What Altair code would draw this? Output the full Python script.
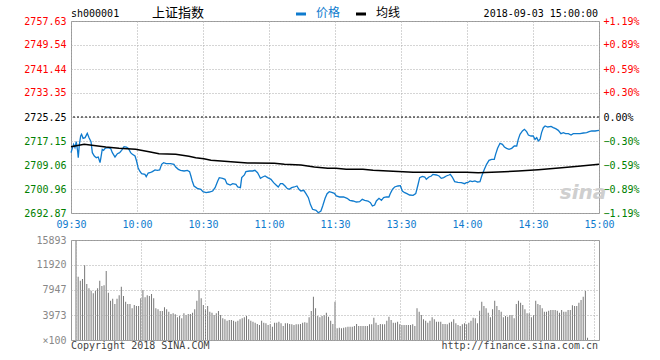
import json
import altair as alt
import pandas as pd

# ---------------- data ----------------
prev_close = 2725.25
price_ticks = [2692.87, 2700.96, 2709.06, 2717.15, 2725.25, 2733.35, 2741.44, 2749.54, 2757.63]
vol_ticks = [0, 3973, 7947, 11920, 15893]
time_ticks = [0, 30, 60, 90, 120, 150, 180, 210, 240]
time_labels = ["09:30", "10:00", "10:30", "11:00", "11:30", "13:30", "14:00", "14:30", "15:00"]

# minutes after 09:30 (trading minutes) and index value
price_min = [
    0, 1.2, 1.8, 2.4, 3.0, 3.3, 3.8, 4.4, 4.8, 5.5,
    6.4, 7.4, 8.2, 9.1, 9.7, 10.6, 11.5, 12.4, 13.2, 13.6,
    14.2, 14.8, 15.5, 16.5, 18.0, 18.8, 20.0, 21.1, 22.1, 23.0,
    24.1, 25.2, 26.1, 27.1, 27.9, 29.1, 29.8, 30.5, 31.2, 32.1,
    33.6, 34.2, 35.1, 36.2, 37.0, 38.2, 39.2, 40.3, 41.2, 42.1,
    43.3, 45.3, 46.8, 47.6, 48.8, 49.8, 51.4, 52.9, 53.9, 54.5,
    55.1, 55.9, 57.4, 59.0, 60.0,
    61.4, 62.9, 64.4, 65.5, 66.7, 67.4, 68.9, 70.0, 70.9, 72.4,
    73.5, 75.0, 75.8, 77.0, 77.6, 78.8, 79.5, 81.1, 82.6, 83.6,
    84.8, 85.6, 86.1, 87.1, 88.2, 89.4, 90.9, 92.1, 93.2, 94.2,
    95.2, 96.2, 97.3, 98.2, 99.2, 100.3, 101.5, 102.7, 103.6, 104.5,
    105.8, 106.8, 107.9, 108.8, 109.8, 111.4, 112.4, 113.6, 114.4, 115.5,
    116.4, 117.4, 118.5, 119.7,
    120.6, 122.1, 123.9, 125.5, 126.7, 128.2, 129.7, 131.2, 132.4, 133.5,
    135.0, 136.1, 137.0, 138.0, 138.8, 140.0, 141.1, 142.1, 143.3, 144.5,
    145.1, 146.1, 147.1, 148.6, 149.7, 150.6, 151.7, 152.7, 153.9, 155.5,
    156.7, 157.7, 158.5, 159.7, 160.8, 161.5, 162.7, 163.8, 164.5, 166.1,
    167.3, 168.3, 169.4, 170.6, 171.8, 172.4, 173.3, 174.4, 175.9, 177.4,
    178.9, 179.7,
    180.3, 181.4, 182.4, 183.6, 184.8, 185.9, 186.7, 187.9, 188.9, 190.0,
    191.2, 192.4, 193.0, 193.9, 195.0, 196.1, 197.0, 198.0, 199.1, 200.3,
    201.5, 202.6, 203.3, 204.1, 205.2, 206.1, 207.1, 207.9, 209.1, 210.1,
    210.9, 211.7, 212.4, 213.2, 213.9, 214.7, 215.5, 216.7, 218.2, 219.2,
    220.3, 221.5, 222.7, 223.8, 224.8, 226.1, 227.3, 228.3, 229.8, 231.4,
    232.9, 234.4, 235.5, 236.7, 238.2, 240.0,
]
price_val = [
    2713.22, 2716.03, 2714.91, 2716.93, 2713.78, 2711.53, 2716.03, 2718.84, 2719.40, 2718.06,
    2718.28, 2719.74, 2718.28, 2716.93, 2713.22, 2712.10, 2711.53, 2711.76, 2709.85, 2711.53,
    2714.35, 2714.01, 2714.68, 2714.91, 2714.68, 2713.22, 2711.76, 2712.88, 2713.22, 2714.01,
    2715.24, 2715.13, 2714.68, 2713.22, 2712.66, 2712.10, 2710.41, 2708.16, 2707.04, 2706.14,
    2705.91, 2705.12, 2706.36, 2706.59, 2706.81, 2707.38, 2707.26, 2707.38, 2709.29, 2709.85,
    2709.51, 2709.51, 2709.29, 2708.39, 2707.60, 2707.26, 2707.04, 2707.26, 2706.81, 2705.35,
    2703.67, 2701.98, 2701.19, 2700.85, 2700.07,
    2699.73, 2699.95, 2700.29, 2701.42, 2703.67, 2704.79, 2704.56, 2704.23, 2702.76, 2702.32,
    2702.76, 2702.54, 2701.64, 2701.42, 2704.79, 2705.69, 2706.81, 2707.04, 2707.04, 2707.26,
    2706.47, 2705.35, 2704.56, 2705.01, 2705.35, 2704.79, 2704.23, 2703.10, 2702.32, 2701.64,
    2702.76, 2702.76, 2701.98, 2701.19, 2700.85, 2701.42, 2701.64, 2701.98, 2700.85, 2700.29,
    2700.52, 2699.39, 2698.04, 2695.79, 2694.11, 2693.77, 2692.98, 2693.55, 2695.23, 2697.82,
    2699.39, 2700.07, 2699.84, 2699.50,
    2698.61, 2698.27, 2698.27, 2697.82, 2697.14, 2696.92, 2696.58, 2696.69, 2697.48, 2697.14,
    2696.92, 2696.36, 2695.23, 2695.57, 2696.92, 2697.82, 2697.14, 2698.04, 2698.27, 2698.27,
    2699.39, 2700.85, 2701.64, 2701.98, 2702.09, 2700.29, 2699.73, 2699.39, 2698.94, 2698.83,
    2699.39, 2702.32, 2704.79, 2705.24, 2705.01, 2704.23, 2705.01, 2705.35, 2705.91, 2705.69,
    2705.35, 2704.56, 2704.79, 2705.35, 2705.69, 2705.91, 2705.01, 2703.44, 2703.22, 2703.10,
    2702.76, 2703.10,
    2703.10, 2703.67, 2703.44, 2703.67, 2703.33, 2703.44, 2705.35, 2707.60, 2709.29, 2710.63,
    2710.97, 2710.97, 2712.66, 2714.68, 2716.37, 2716.03, 2715.13, 2714.68, 2714.35, 2714.68,
    2715.47, 2715.47, 2717.72, 2719.40, 2720.53, 2721.09, 2720.30, 2719.18, 2718.84, 2718.84,
    2717.72, 2718.28, 2717.16, 2717.72, 2719.97, 2721.65, 2722.22, 2721.88, 2722.10, 2721.65,
    2721.31, 2720.75, 2719.63, 2719.97, 2719.63, 2719.63, 2719.18, 2719.63, 2719.63, 2719.63,
    2719.85, 2719.97, 2720.30, 2720.53, 2720.53, 2720.75,
]

avg_min = [0, 6.0, 15.8, 21.8, 29.4, 35.5, 40.0, 47.6, 53.6, 56.7,
           60.4, 63.6, 68.2, 74.2, 80.3, 92.4, 97.0, 104.5, 110.6, 116.7,
           120.4, 125.1, 132.7, 137.3, 146.4, 155.5, 179.7, 185.1, 194.2, 203.3,
           212.4, 223.0, 230.6, 240.0]
avg_val = [2715.24, 2716.03, 2715.13, 2714.68, 2714.35, 2713.56, 2712.88, 2712.66, 2711.98, 2711.53,
           2711.20, 2710.63, 2710.41, 2710.07, 2709.74, 2709.62, 2709.29, 2709.06, 2708.39, 2707.94,
           2707.94, 2707.60, 2707.60, 2707.26, 2706.92, 2706.59, 2706.59, 2706.47, 2706.70, 2707.04,
           2707.49, 2708.16, 2708.61, 2709.29]

# volume per minute (x100 shares), minute 0 = 09:30
volume = [15893,
    10070, 9434, 9699, 11925, 8904, 8215, 7844, 7420, 7844, 8215,
    9434, 8586, 8692, 10971, 7526, 6254, 6572, 5724, 6572, 7102,
    8480, 6996, 6095, 5724, 5724, 5035, 5565, 5406, 5406, 6625,
    7950, 6784, 7102, 6996, 7314, 6625, 5035, 4876, 4611, 4611,
    5194, 4876, 4505, 4134, 4240, 4081, 3604, 3816, 3445, 4240,
    3975, 4134, 4134, 4346, 4876, 6254, 7950, 6625, 5565, 4876,
    5406,
    4505, 4346, 3975, 4240, 4611, 3975, 3445, 3286, 3074, 3180,
    3180, 3074, 2915, 3074, 3286, 3445, 3604, 3816, 3286, 3074,
    2915, 2756, 2544, 2385, 3074, 2756, 2650, 2385, 2544, 2120,
    2756, 2756, 2915, 2650, 2226, 2650, 2650, 2544, 2491, 2385,
    2491, 2491, 2544, 2756, 2809, 2756, 3604, 4611, 6890, 5035,
    3816, 3604, 3816, 3975, 4346, 3710, 3074,
    2544, 6095,
    1855, 1961, 1855, 1961, 2014, 2120, 2120, 2120, 2226, 2544,
    2226, 2226, 2226, 2226, 2226, 2491, 2491, 3551, 2756, 2385,
    2544, 2491, 2491, 3074, 3710, 3180, 2756, 2756, 2915, 2491,
    2385, 2385, 2385, 2385, 2385, 2491, 2226, 5035, 4505, 3975, 3286,
    3074, 2756, 3074, 3604, 3286, 2915, 2915, 2915, 2544, 2544,
    2491, 2756, 2915, 3286, 2650, 2385, 2226, 2491, 2650, 2491,
    2756, 3074, 3551, 3445, 2650, 4664, 6095, 5406, 5035, 4346,
    3604, 4876, 6254, 5406, 4770, 4505, 3604, 3816, 3710, 3975,
    3975, 3445, 5724, 6254, 5936, 5565, 4876, 4240, 4240, 3604,
    3975, 6254, 5724, 5565, 5035, 4505, 4505, 4664, 4770, 4770, 4770,
    4664, 4346, 4770, 4505, 4505, 4770, 4770, 5512, 5406, 5406,
    5936, 6360, 6890, 7791, 371,
]
vol_min = list(range(len(volume)))

# ---------------- style ----------------
MONO = "DejaVu Sans Mono"
CJK = "Noto Sans CJK SC"
BLUE = "#0f7bce"
GRID = "#aaaaaa"
W, H1, H2 = 528, 192, 100

xs = alt.Scale(domain=[0, 240], nice=False, zero=False)
ys = alt.Scale(domain=[price_ticks[0], price_ticks[-1]], nice=False, zero=False)
vs = alt.Scale(domain=[vol_ticks[0], vol_ticks[-1]], nice=False)

time_expr = json.dumps(time_labels) + "[round(datum.value/30)]"
cond_color = {
    "condition": [
        {"test": f"datum.value > {prev_close + 0.05}", "value": "#ff0000"},
        {"test": f"datum.value < {prev_close - 0.05}", "value": "#008000"},
    ],
    "value": "#000000",
}

x_top = alt.X("t:Q", scale=xs, title=None, axis=alt.Axis(
    values=time_ticks, labelExpr=time_expr, labelColor=BLUE, labelFont=MONO, labelFontSize=10,
    labelPadding=6, labelFlush=False, labelOverlap=False, ticks=False, domain=False,
    grid=True, gridColor=GRID, gridDash=[1, 2]))
x_bot = alt.X("t:Q", scale=xs, title=None, axis=alt.Axis(
    values=time_ticks, labels=False, ticks=False, domain=False,
    grid=True, gridColor=GRID, gridDash=[1, 2], zindex=1))

price_axis = alt.Axis(
    values=price_ticks, format=".2f", labelColor=cond_color, labelFont=MONO, labelFontSize=10,
    labelPadding=5, ticks=False, domain=False, grid=True, gridColor=GRID, gridDash=[1, 2])
y_price = alt.Y("p:Q", scale=ys, title=None, axis=price_axis)
y_pct = alt.Y("p:Q", scale=ys, title=None, axis=alt.Axis(
    orient="right", values=price_ticks, labelColor=cond_color, labelFont=MONO, labelFontSize=10,
    labelExpr=f"abs(datum.value-{prev_close}) < 0.01 ? '0.00%' : format((datum.value-{prev_close})/{prev_close}*100, '+.2f') + '%'",
    labelPadding=4, ticks=False, domain=False, grid=False))


def label(text, x, y, **kw):
    return alt.Chart(pd.DataFrame({"s": [text]})).mark_text(**kw).encode(
        x=alt.value(x), y=alt.value(y), text="s:N")


price_df = pd.DataFrame({"t": price_min, "p": price_val})
avg_df = pd.DataFrame({"t": avg_min, "p": avg_val})

price_line = alt.Chart(price_df).mark_line(color=BLUE, strokeWidth=1.3).encode(x=x_top, y=y_price)
avg_line = alt.Chart(avg_df).mark_line(color="#000000", strokeWidth=1.5).encode(x=x_top, y=y_price)
zero_rule = alt.Chart(pd.DataFrame({"p": [prev_close]})).mark_rule(
    color="#000000", strokeDash=[2, 2], strokeWidth=1).encode(y=y_price)

leg_price = alt.Chart(pd.DataFrame({"s": ["价格"]})).mark_rule(color=BLUE, strokeWidth=3).encode(
    x=alt.value(225), x2=alt.value(235), y=alt.value(-7))
leg_avg = alt.Chart(pd.DataFrame({"s": ["均线"]})).mark_rule(color="#000000", strokeWidth=3).encode(
    x=alt.value(285), x2=alt.value(295), y=alt.value(-7))

header = [
    label("sh000001", 0, -7, font=MONO, fontSize=10, align="left", baseline="middle", color="#000000"),
    label("上证指数", 81, -8, font=CJK, fontSize=13, align="left", baseline="middle", color="#000000"),
    label("价格", 245, -8, font=CJK, fontSize=12, align="left", baseline="middle", color=BLUE),
    label("均线", 305, -8, font=CJK, fontSize=12, align="left", baseline="middle", color="#000000"),
    label("2018-09-03 15:00:00", 527, -7, font=MONO, fontSize=10, align="right", baseline="middle", color="#000000"),
    label("sina", 512, 172, font="DejaVu Sans", fontSize=20, fontStyle="italic", fontWeight="bold",
          align="center", baseline="middle", color="#cfcfcf"),
]

pct_layer = alt.Chart(pd.DataFrame({"p": price_ticks})).mark_point(opacity=0).encode(y=y_pct)

top = alt.layer(
    alt.layer(zero_rule, price_line, avg_line, leg_price, leg_avg, *header),
    pct_layer,
).resolve_scale(y="independent").properties(width=W, height=H1)

vol_df = pd.DataFrame({"t": vol_min, "v": volume})
bars = alt.Chart(vol_df).mark_bar(width=1, color="#777777").encode(
    x=x_bot,
    y=alt.Y("v:Q", scale=vs, title=None, axis=alt.Axis(
        values=vol_ticks, labelExpr="datum.value == 0 ? '×100' : format(datum.value, 'd')",
        labelColor="#888888", labelFont=MONO, labelFontSize=10, labelPadding=5,
        ticks=False, domain=False, grid=True, gridColor=GRID, gridDash=[1, 2], zindex=1)),
    y2=alt.datum(0),
)
foot = [
    label("Copyright 2018 SINA.COM", 0, 106, font=MONO, fontSize=10, align="left", baseline="middle", color="#444444"),
    label("http://finance.sina.com.cn", 527, 106, font=MONO, fontSize=10, align="right", baseline="middle", color="#444444"),
]
bottom = alt.layer(bars, *foot).properties(width=W, height=H2)

chart = alt.vconcat(top, bottom, spacing=4).properties(
    padding={"left": 23, "top": 6, "right": 0, "bottom": 0},
    background="#ffffff",
).configure_view(stroke="#999999", strokeWidth=1)

chart.save("out.html", embed_options={"renderer": "svg", "actions": False})
